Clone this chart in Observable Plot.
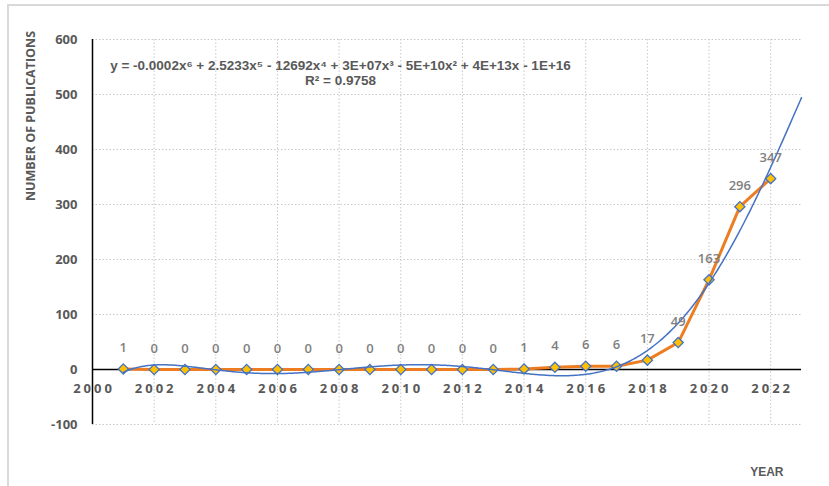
<!DOCTYPE html>
<html>
<head>
<meta charset="utf-8">
<script src="https://cdn.jsdelivr.net/npm/d3@7"></script>
<script src="https://cdn.jsdelivr.net/npm/@observablehq/plot@0.6"></script>
<style>
  html, body { margin: 0; padding: 0; background: #fff; }
  #wrap { position: relative; width: 829px; height: 486px; overflow: hidden; }
  #frame { position: absolute; left: 7px; top: 4px; width: 900px; height: 600px;
           border-top: 2px solid #d9d9d9; border-left: 2px solid #d9d9d9; }
  #chart { position: absolute; left: 0; top: 0; }
  #ytitle { position: absolute; left: 30px; top: 116px; transform: translate(-50%, -50%) rotate(-90deg);
            white-space: nowrap; font: bold 12.5px "Open Sans", "Noto Sans", sans-serif; color: #595959; }
  svg { font-family: "Liberation Sans", Arial, sans-serif; }
</style>
</head>
<body>
<div id="wrap"><div id="frame"></div><div id="chart"></div><div id="ytitle">NUMBER OF PUBLICATIONS</div></div>
<script>
// Publications per year
const years = [2001, 2002, 2003, 2004, 2005, 2006, 2007, 2008, 2009, 2010, 2011,
               2012, 2013, 2014, 2015, 2016, 2017, 2018, 2019, 2020, 2021, 2022];
const publications = [1, 0, 0, 0, 0, 0, 0, 0, 0, 0, 0,
                      0, 0, 1, 4, 6, 6, 17, 49, 163, 296, 347];

const yearTicks = [2000, 2002, 2004, 2006, 2008, 2010, 2012, 2014, 2016, 2018, 2020, 2022];
const countTicks = [-100, 0, 100, 200, 300, 400, 500, 600];
const equation = "y = -0.0002x\u2076 + 2.5233x\u2075 - 12692x\u2074 + 3E+07x\u00B3 - 5E+10x\u00B2 + 4E+13x - 1E+16";
const rSquared = "R\u00B2 = 0.9758";

const data = years.map((year, i) => ({year, value: publications[i]}));

// Sixth-order least-squares polynomial trendline (on a rescaled year axis)
function polyfit(xs, ys, deg) {
  const c = d3.mean(xs), s = (d3.max(xs) - d3.min(xs)) / 2;
  const ts = xs.map(x => (x - c) / s);
  const n = deg + 1;
  const M = Array.from({length: n}, () => new Array(n + 1).fill(0));
  ts.forEach((t, k) => {
    for (let i = 0; i < n; i++) {
      for (let j = 0; j < n; j++) M[i][j] += Math.pow(t, i + j);
      M[i][n] += Math.pow(t, i) * ys[k];
    }
  });
  for (let i = 0; i < n; i++) {
    let p = i;
    for (let r = i + 1; r < n; r++) if (Math.abs(M[r][i]) > Math.abs(M[p][i])) p = r;
    [M[i], M[p]] = [M[p], M[i]];
    for (let r = 0; r < n; r++) {
      if (r === i) continue;
      const f = M[r][i] / M[i][i];
      for (let j = i; j <= n; j++) M[r][j] -= f * M[i][j];
    }
  }
  const coef = M.map((row, i) => row[n] / row[i]);
  return x => { const t = (x - c) / s; return coef.reduce((a, b, i) => a + b * Math.pow(t, i), 0); };
}
const trend = polyfit(years, publications, 6);
const trendData = d3.range(2001, 2023.001, 0.05).map(x => ({year: x, value: trend(x)}));

const grey = "#595959";
const sans = "'Open Sans', 'Noto Sans', sans-serif";

const chart = Plot.plot({
  width: 829,
  height: 486,
  marginLeft: 92,
  marginRight: 28,
  marginTop: 39,
  marginBottom: 62,
  x: {domain: [2000, 2023], axis: null},
  y: {domain: [-100, 600], axis: null},
  marks: [
    Plot.gridX(yearTicks.filter(d => d !== 2000), {stroke: "#c8c8c8", strokeOpacity: 1, strokeDasharray: "1.5,2"}),
    Plot.gridY(countTicks.filter(d => d !== 0), {stroke: "#c8c8c8", strokeOpacity: 1, strokeDasharray: "1.5,2"}),
    Plot.axisY(countTicks, {label: null, tickSize: 0, tickPadding: 15, fontSize: 13,
      tickFormat: d => String(d), fontWeight: "bold", fill: grey, fontFamily: sans}),
    Plot.ruleX([2000], {y1: -100, y2: 600, stroke: "#000", strokeWidth: 1.5}),
    Plot.ruleY([0], {stroke: "#000", strokeWidth: 1.5}),
    Plot.text(yearTicks, {x: d => d, y: 0, dy: 19, dx: 1.5, text: d => String(d), fontSize: 13,
      fontWeight: "bold", fill: grey, fontFamily: sans}),
    Plot.line(data, {x: "year", y: "value", stroke: "#EE7D22", strokeWidth: 3}),
    Plot.dot(data, {x: "year", y: "value", symbol: "diamond2", r: 4.6, fill: "#FFC000",
      stroke: "#4472C4", strokeWidth: 1.3}),
    Plot.line(trendData, {x: "year", y: "value", stroke: "#4472C4", strokeWidth: 1.5, curve: "linear"}),
    Plot.text(data, {x: "year", y: "value", text: d => String(d.value), dy: -21, fontSize: 13,
      fill: "#7f7f7f", fontFamily: sans, fontWeight: 600}),
    Plot.text([equation + "\n" + rSquared], {frameAnchor: "top-left", dx: 248, dy: 20,
      textAnchor: "middle", lineAnchor: "top", lineHeight: 1.12, fontSize: 13.5,
      fontWeight: "bold", fill: grey}),
    Plot.text(["YEAR"], {frameAnchor: "bottom-right", dx: -18, dy: 51, fontSize: 12,
      fontWeight: "bold", fill: grey})
  ]
});

// spaced-out year labels along the zero line
const yearLabels = new Set(yearTicks.map(String));
d3.select(chart).selectAll("text")
  .filter(function() { return yearLabels.has(this.textContent); })
  .style("letter-spacing", "3px");

document.getElementById("chart").appendChild(chart);
</script>
</body>
</html>
